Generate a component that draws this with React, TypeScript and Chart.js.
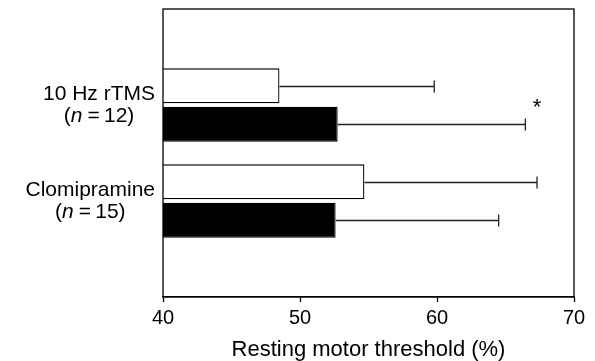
import React, { useEffect, useRef } from "react";
import { Chart, registerables } from "chart.js";

Chart.register(...registerables);

// ---- data ----
const categories = ["", "10 Hz rTMS", "Clomipramine", ""];
const sampleSizes = [null, 12, 15, null];
const beforeMeans = [null, 48.5, 54.7, null];
const beforeSD = [null, 11.3, 12.6, null];
const afterMeans = [null, 52.75, 52.6, null];
const afterSD = [null, 13.7, 11.9, null];
const xTicks = [40, 50, 60, 70];
const xTitle = "Resting motor threshold (%)";
const significanceMarks = [{ index: 1, value: 67.3, text: "*" }];

const FONT = "'Liberation Sans', Arial, sans-serif";

const errorBarPlugin = {
  id: "errorBars",
  afterDatasetsDraw(chart: any) {
    const ctx = chart.ctx;
    const xScale = chart.scales.x;
    const sds = [beforeSD, afterSD];
    ctx.save();
    ctx.strokeStyle = "#222";
    ctx.lineWidth = 1.3;
    chart.data.datasets.forEach((ds: any, di: number) => {
      const meta = chart.getDatasetMeta(di);
      ds.data.forEach((v: number | null, i: number) => {
        const sd = sds[di][i];
        if (v == null || sd == null) return;
        const bar = meta.data[i];
        const x0 = bar.x;
        const x1 = xScale.getPixelForValue(v + sd);
        const y = Math.round(bar.y) + 0.5;
        ctx.beginPath();
        ctx.moveTo(x0, y);
        ctx.lineTo(x1, y);
        ctx.moveTo(x1, y - 6);
        ctx.lineTo(x1, y + 6);
        ctx.stroke();
      });
    });
    // significance marks
    const meta = chart.getDatasetMeta(1);
    ctx.fillStyle = "#000";
    ctx.font = `22px ${FONT}`;
    significanceMarks.forEach((m) => {
      const bar = meta.data[m.index];
      const top = bar.y - bar.height / 2;
      const x = xScale.getPixelForValue(m.value);
      const tm = ctx.measureText(m.text);
      const asc = tm.actualBoundingBoxAscent;
      const desc = tm.actualBoundingBoxDescent;
      const cy = top - 4;
      ctx.textAlign = "center";
      ctx.textBaseline = "alphabetic";
      ctx.fillText(m.text, x, cy + (asc - desc) / 2);
    });
    ctx.restore();
  },
};

const framePlugin = {
  id: "frame",
  afterDraw(chart: any) {
    const { left, right, top, bottom } = chart.chartArea;
    const ctx = chart.ctx;
    ctx.save();
    ctx.strokeStyle = "#000";
    ctx.lineWidth = 1.3;
    ctx.strokeRect(left, top, right - left, bottom - top);
    ctx.restore();
  },
};

const yLabelPlugin = {
  id: "yLabels",
  afterDraw(chart: any) {
    const ctx = chart.ctx;
    const yScale = chart.scales.y;
    const rightEdge = chart.chartArea.left - 8;
    ctx.save();
    ctx.fillStyle = "#000";
    ctx.textBaseline = "alphabetic";
    categories.forEach((label, i) => {
      if (!label) return;
      const cy = yScale.getPixelForValue(i);
      const reg = `21px ${FONT}`;
      const ital = `italic 21px ${FONT}`;
      const n = sampleSizes[i];
      ctx.font = reg;
      const w1 = ctx.measureText(label).width;
      const pA = "(";
      const pC = ` = ${n})`.replace(" = ", "\u2009=\u2009");
      const wA = ctx.measureText(pA).width;
      const wC = ctx.measureText(pC).width;
      ctx.font = ital;
      const wB = ctx.measureText("n").width + 1;
      const w2 = wA + wB + wC;
      const blockW = Math.max(w1, w2);
      const cx = rightEdge - blockW / 2;
      ctx.font = reg;
      ctx.textAlign = "left";
      ctx.fillText(label, cx - w1 / 2, cy - 5);
      let x = cx - w2 / 2;
      const y2 = cy + 17;
      ctx.fillText(pA, x, y2);
      x += wA;
      ctx.font = ital;
      ctx.fillText("n", x, y2);
      x += wB;
      ctx.font = reg;
      ctx.fillText(pC, x, y2);
    });
    ctx.restore();
  },
};

export default function App() {
  const ref = useRef<HTMLCanvasElement | null>(null);
  useEffect(() => {
    if (!ref.current) return;
    const chart = new Chart(ref.current, {
      type: "bar",
      data: {
        labels: categories,
        datasets: [
          {
            label: "Before",
            data: beforeMeans as any,
            backgroundColor: "#ffffff",
            borderColor: "#000",
            borderWidth: 1.3,
            borderSkipped: false,
            categoryPercentage: 0.8,
            barPercentage: 0.91,
          },
          {
            label: "After",
            data: afterMeans as any,
            backgroundColor: "#000",
            borderColor: "#000",
            borderWidth: 1.3,
            borderSkipped: false,
            categoryPercentage: 0.8,
            barPercentage: 0.91,
          },
        ],
      },
      options: {
        indexAxis: "y",
        animation: false,
        responsive: true,
        maintainAspectRatio: false,
        layout: { padding: { top: 9, right: 21, left: 0, bottom: 0 } },
        plugins: {
          legend: { display: false },
          tooltip: { enabled: false },
        },
        scales: {
          x: {
            type: "linear",
            min: xTicks[0],
            max: xTicks[xTicks.length - 1],
            afterBuildTicks(scale: any) {
              scale.ticks = xTicks.map((v) => ({ value: v }));
            },
            grid: {
              display: true,
              drawOnChartArea: false,
              drawTicks: true,
              tickLength: 5,
              tickColor: "#000",
              tickWidth: 1.3,
            },
            border: { display: true, color: "#000", width: 1.3 },
            ticks: {
              color: "#000",
              font: { family: FONT, size: 20 },
              padding: 4,
              maxRotation: 0,
            },
            title: {
              display: true,
              text: xTitle,
              color: "#000",
              font: { family: FONT, size: 22, lineHeight: 1 },
              padding: { top: 0, bottom: 0 },
            },
            afterFit(scale: any) {
              scale.height = 64;
            },
          },
          y: {
            type: "category",
            offset: false,
            grid: { display: false },
            border: { display: false },
            ticks: { display: false },
            afterFit(scale: any) {
              scale.width = 163;
            },
          },
        },
      },
      plugins: [errorBarPlugin, framePlugin, yLabelPlugin],
    } as any);
    return () => chart.destroy();
  }, []);
  return (
    <div style={{ position: "fixed", left: 0, top: 0, width: 595, height: 361, background: "#fff" }}>
      <canvas ref={ref} />
    </div>
  );
}
